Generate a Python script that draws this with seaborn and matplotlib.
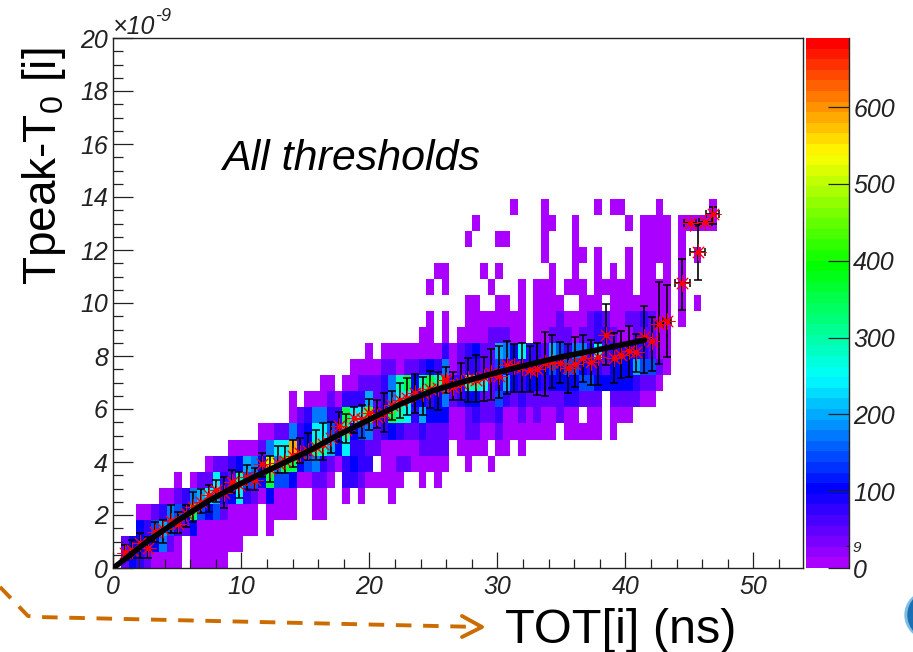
import colorsys
import numpy as np
import pandas as pd
import matplotlib
matplotlib.use("Agg")
import matplotlib.pyplot as plt
from matplotlib.colors import ListedColormap
from matplotlib.lines import Line2D
from matplotlib.patches import Ellipse
from matplotlib.ticker import MultipleLocator
import seaborn as sns

# counts per histogram cell, coded by letter: {row: [(first column, letters), ...]}
level_codes = {'a': 12, 'b': 45, 'c': 75, 'd': 105, 'e': 140, 'f': 175, 'g': 205,
               'h': 240, 'i': 290, 'j': 350, 'k': 440, 'l': 510, 'm': 590, 'n': 670}
hist_rows = {
    0: [(1, "bdcbaaaa"), (10, "aaaaa")],
    1: [(1, "bddcdfba"), (10, "aaaaaaa")],
    2: [(3, "dcegecbdaaaaaaaa"), (20, "a")],
    3: [(3, "aabcfedjedebaaaa"), (20, "aaaa"), (26, "aa")],
    4: [(6, "aabcfghgcdhcbadaaa"), (26, "aa"), (30, "a"), (32, "a"), (36, "a")],
    5: [(8, "a"), (10, "abbhcbieedjeedaabba"), (30, "ccbaaaaa"), (40, "a"), (42, "a")],
    6: [(12, "abbcdgfdlfjjdefcbacdcc"), (35, "aabbaaaaa"), (46, "a"), (49, "a")],
    7: [(15, "aaaabfhhmcdiigdhccbbaaaaabbbb"), (45, "aaaa"), (50, "aa"), (53, "a")],
    8: [(19, "aabbfcdhhecidefbcdcbbcbbbaabbaabaaaaaaa"), (59, "aaaaa"), (65, "a")],
    9: [(23, "abcffccjhhkccjihcgdddaabcbbcaababaabaa"), (62, "aa"), (65, "aaa")],
    10: [(23, "a"), (25, "aaabacccgbcfhhddcdfbcddbbecbcbbbbbccbbb"), (65, "bbbbaa")],
    11: [(27, "aa"), (30, "aabbbcfijdijincciihbcgdcddcddddeedd"), (65, "dddcbba")],
    12: [(31, "aaaabbabbcdcfabccbbecccccdedeedccbdddgeeba")],
    13: [(33, "a"), (35, "aaaaaaaacabcdbbgfdhccbgecffchbccdccbaa")],
    14: [(40, "aa"), (43, "a"), (45, "aaaabbbaa"), (55, "aabbbabbccbaabbbaa")],
    15: [(41, "a"), (43, "a"), (46, "aaaaaaaa"), (55, "aaabaaabcbaabbcbaa"), (74, "a")],
    16: [(46, "aa"), (50, "aa"), (53, "a"), (55, "aaaa"), (61, "aaa"), (65, "aaaaaaaa"),
         (74, "a"), (76, "a")],
    17: [(41, "a"), (43, "a"), (49, "a"), (53, "a"), (55, "aaa"), (59, "aaa"), (63, "aaaaa"),
         (69, "aaaa"), (74, "a")],
    18: [(42, "aa"), (48, "a"), (50, "a"), (57, "a"), (60, "a"), (63, "a"), (65, "a"), (67, "a"),
         (69, "aa"), (72, "a"), (74, "a")],
    19: [(56, "a"), (60, "aa"), (63, "a"), (67, "a"), (69, "aaaa"), (74, "a"), (76, "a")],
    20: [(46, "a"), (50, "aa"), (56, "a"), (60, "a"), (69, "aaaa"), (74, "a")],
    21: [(47, "a"), (56, "aa"), (60, "a"), (67, "a"), (69, "aaaa"), (74, "aaaaa")],
    22: [(52, "a"), (56, "a"), (63, "a"), (65, "aa"), (71, "a"), (78, "a")],
}

# profile: one point per TOT bin (column 1..78), values in units of 1e-9
prof_mean = [0.58, 0.68, 0.93, 0.77, 1.37, 1.46, 1.78, 1.66, 2.06, 2.31, 2.50, 2.75, 2.94,
             2.82, 3.26, 3.13, 3.45, 3.32, 3.91, 3.73, 3.97, 4.05, 4.22, 4.33, 4.43, 4.58,
             4.68, 4.89, 5.36, 5.21, 5.65, 5.61, 5.86, 5.71, 5.86, 6.15, 6.34, 6.40, 6.59,
             6.59, 6.74, 6.78, 7.09, 6.84, 6.97, 7.12, 7.09, 7.22, 7.34, 7.24, 7.65, 7.62,
             7.60, 7.47, 7.50, 7.72, 7.78, 7.75, 7.53, 7.68, 7.91, 7.77, 7.97, 8.79, 7.91,
             8.04, 8.20, 8.16, 8.73, 8.56, 9.21, 9.33, np.nan, 10.74, 13.03, 11.92, 13.04, 13.34]
prof_high = [0.87, 1.06, 1.31, 1.18, 1.75, 1.81, 2.38, 2.12, 2.38, 2.88, 3.00, 3.13, 3.32,
             3.45, 3.70, 3.61, 3.89, 3.76, 4.33, 4.22, 4.60, 4.60, 4.83, 4.89, 5.08, 5.21,
             5.48, 5.52, 5.90, 5.83, 6.09, 6.15, 6.36, 6.34, 6.61, 6.69, 6.97, 7.16, 7.32,
             7.19, 7.45, 7.41, 7.57, 7.41, 7.75, 7.91, 8.04, 7.97, 8.26, 8.38, 8.56, 8.44,
             8.48, 8.39, 8.50, 8.92, 8.79, 8.54, 8.45, 8.73, 8.79, 8.60, 8.48, 9.96, 8.85,
             8.95, 9.14, 8.83, 9.89, 9.48, 10.79, 10.68, np.nan, 11.66, 13.03, 13.00, 13.04, 13.63]
prof_low = [0.30, 0.36, 0.36, 0.36, 0.99, 0.93, 1.31, 1.31, 1.56, 1.75, 2.06, 2.12, 2.50,
            2.25, 2.82, 2.63, 2.94, 2.94, 3.45, 3.26, 3.57, 3.57, 3.82, 3.95, 4.07, 4.07,
            4.07, 4.33, 4.77, 4.70, 5.08, 4.89, 5.21, 5.27, 5.14, 5.58, 5.65, 5.77, 5.86,
            5.77, 6.02, 5.96, 6.59, 6.34, 6.34, 6.28, 6.28, 6.31, 6.34, 6.40, 6.56, 6.65,
            6.65, 6.65, 6.53, 6.49, 6.78, 6.97, 6.61, 6.84, 7.03, 6.90, 6.90, 7.66, 6.97,
            7.16, 7.22, 7.38, 7.37, 7.45, 7.68, 7.97, np.nan, 9.73, 13.03, 10.87, 13.04, 13.00]
prof_xerr = [0.0] * 70 + [0.3, 0.3, 0.0, 0.58, 0.5, 0.58, 0.5, 0.5]

# fitted curve
fit_tot = [0, 1, 2.5, 5, 7.5, 10, 12.5, 15, 17.5, 20, 22.5, 25, 27.5, 30, 32.5, 35, 37.5, 40, 41.5]
fit_peak = [0, 0.37, 0.95, 1.78, 2.55, 3.2, 3.78, 4.35, 5.0, 5.6, 6.2, 6.7, 7.05, 7.38, 7.68,
            7.97, 8.2, 8.45, 8.6]

n_cols, n_rows = 90, 33
tot_step = 0.5967
W, H = 913, 652
x0, x1, y0, y1 = 113.3, 802.5, 568, 38  # plot frame in pixels


def fx(px):
    return px / W


def fy(py):
    return 1 - py / H


sns.set_style("white")
plt.rcParams['font.family'] = ['Liberation Sans', 'DejaVu Sans']
plt.rcParams['mathtext.fontset'] = 'custom'
plt.rcParams['mathtext.rm'] = 'Liberation Sans'

grid = np.full((n_rows, n_cols), np.nan)
for row, segments in hist_rows.items():
    for first, letters in segments:
        for i, ch in enumerate(letters):
            grid[row, first + i] = level_codes[ch]
df_hist = pd.DataFrame(grid)

# ROOT rainbow palette, 50 steps from violet to red
palette = ListedColormap([colorsys.hsv_to_rgb((280 - 280 * i / 49) / 360, 1, 1) for i in range(50)])

fig = plt.figure(figsize=(W / 100, H / 100), dpi=100, facecolor='white')
rect = [fx(x0), fy(y0), (x1 - x0) / W, (y0 - y1) / H]
ax_hist = fig.add_axes(rect)
cax = fig.add_axes([fx(806), fy(568), 43 / W, 530 / H])

sns.heatmap(df_hist, ax=ax_hist, cbar_ax=cax, cmap=palette, vmin=0, vmax=690,
            mask=df_hist.isna(), cbar_kws={'ticks': [0, 100, 200, 300, 400, 500, 600]})
ax_hist.set_xlim(0, (x1 - x0) / (tot_step * 12.8))
ax_hist.set_ylim(0, n_rows)
ax_hist.axis('off')

# colour bar axis on the right side only
cbar = ax_hist.collections[0].colorbar
cbar.outline.set_visible(False)
cax.set_axisbelow(False)
cax.spines['right'].set_visible(True)
cax.spines['right'].set_linewidth(1.0)
cax.spines['right'].set_color('#222222')
cax.tick_params(axis='y', direction='in', length=15, width=0.9, color='#222222', pad=3, right=True)
cax.minorticks_off()
for lab in cax.get_yticklabels():
    lab.set_fontstyle('italic')
    lab.set_fontsize(18)
    lab.set_color('#222222')
fig.text(fx(852), fy(552), '9', fontsize=11, style='italic', color='#222222')
fig.add_artist(Line2D([fx(846), fx(849)], [fy(546), fy(546)], color='#222222', lw=0.9))

# overlay with the real axes
ax = fig.add_axes(rect, facecolor='none')
ax.set_xlim(0, (x1 - x0) / 12.8)
ax.set_ylim(0, 20)

prof_bins = np.arange(1, 79)
prof_x = (prof_bins + 0.5) * tot_step
means = np.array(prof_mean)
yerr = [means - np.array(prof_low), np.array(prof_high) - means]
ax.errorbar(prof_x, means, yerr=yerr, xerr=prof_xerr, fmt='none', ecolor='black', elinewidth=1.2,
            capsize=3, capthick=1.1, zorder=3)
sns.scatterplot(x=prof_x, y=means, ax=ax, marker=(8, 2, 0), s=120, color='red', linewidth=0.7, zorder=4)
sns.scatterplot(x=prof_x, y=means, ax=ax, marker='o', s=14, color='red', linewidth=0, zorder=4)
sns.lineplot(x=fit_tot, y=fit_peak, ax=ax, color='black', linewidth=4, sort=False, zorder=5,
             solid_capstyle='round')

ax.xaxis.set_major_locator(MultipleLocator(10))
ax.xaxis.set_minor_locator(MultipleLocator(2))
ax.yaxis.set_major_locator(MultipleLocator(2))
ax.yaxis.set_minor_locator(MultipleLocator(0.5))
ax.tick_params(axis='x', which='major', direction='in', length=11.5, width=0.9, color='#222222', pad=5,
               labelsize=18, labelcolor='#222222', bottom=True)
ax.tick_params(axis='x', which='minor', direction='in', length=6.2, width=0.9, color='#222222', bottom=True)
ax.tick_params(axis='y', which='major', direction='in', length=14.4, width=0.9, color='#222222', pad=4,
               labelsize=18, labelcolor='#222222', left=True)
ax.tick_params(axis='y', which='minor', direction='in', length=7.2, width=0.9, color='#222222', left=True)
for lab in ax.get_xticklabels() + ax.get_yticklabels():
    lab.set_fontstyle('italic')
ax.set_xlabel('')
ax.set_ylabel('')
ax.set_axisbelow(False)
for s in ax.spines.values():
    s.set_visible(True)
    s.set_linewidth(1.0)
    s.set_color('#222222')

# texts
fig.text(fx(222), fy(170), 'All thresholds', fontsize=31, style='italic', color='black')
fig.text(fx(505), fy(643), 'TOT[i] (ns)', fontsize=35, color='black')
fig.text(fx(68), fy(285), 'Tpeak-T$_{\\mathrm{0}}$ [i]', fontsize=33, rotation=90, color='black',
         ha='right', va='bottom')
fig.text(fx(113), fy(34), '\u00d710', fontsize=18, style='italic', color='#222222')
fig.text(fx(155), fy(21), '-9', fontsize=13, style='italic', color='#222222')

# dashed arrow and logo corner from the slide
arrow_x = [0, 28, 37, 480]
arrow_y = [587, 616, 617, 627]
fig.add_artist(Line2D([fx(v) for v in arrow_x], [fy(v) for v in arrow_y], color='#cc6c00', lw=2.8,
                      ls=(0, (4, 3)), dash_capstyle='butt'))
fig.add_artist(Line2D([fx(462), fx(482), fx(462)], [fy(616), fy(627), fy(637)], color='#cc6c00', lw=2.8))
fig.add_artist(Ellipse((fx(929), fy(615)), 48 / W, 48 / H, color='#7fbde6', transform=fig.transFigure))
fig.add_artist(Ellipse((fx(932), fy(615)), 48 / W, 48 / H, color='#1c6fb0', transform=fig.transFigure))

fig.savefig('out.png', dpi=100)
